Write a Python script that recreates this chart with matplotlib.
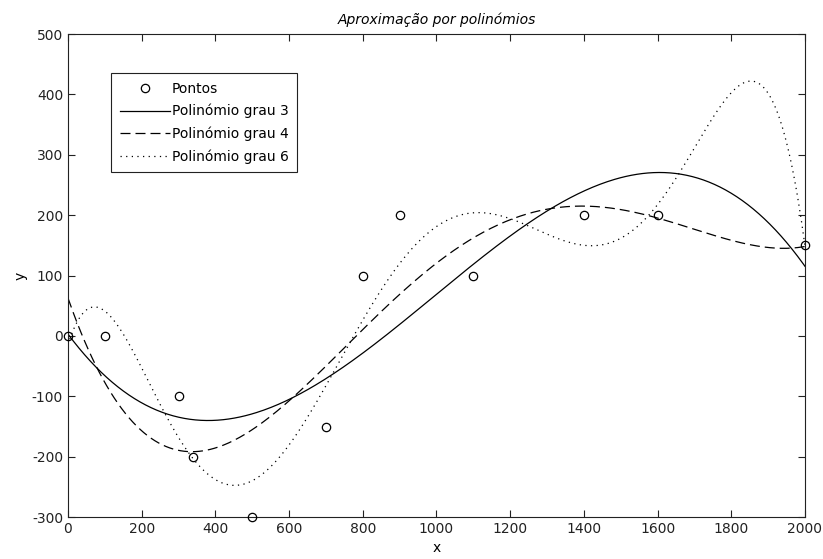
import numpy as np
import matplotlib.pyplot as plt

plt.rcParams['font.family'] = ['DejaVu Sans']
plt.rcParams['axes.unicode_minus'] = False

# pontos
x_pts = [0, 100, 300, 340, 500, 700, 800, 900, 1100, 1400, 1600, 2000]
y_pts = [0, 0, -100, -200, -300, -150, 100, 200, 100, 200, 200, 150]
degrees = [3, 4, 6]
labels = ['Polinómio grau 3', 'Polinómio grau 4', 'Polinómio grau 6']

fig = plt.figure(figsize=(8.23, 5.59), dpi=100)
ax = fig.add_axes([0.0826, 0.075, 0.8955, 0.864])

ax.plot(x_pts, y_pts, 'o', mfc='none', mec='black', ms=6, mew=0.9,
        label='Pontos', clip_on=False, zorder=5)

xs = np.linspace(0, 2000, 400)
line_kw = [dict(ls='-', lw=0.9),
           dict(ls='--', lw=0.9, dashes=(8, 4)),
           dict(ls=':', lw=0.9, dashes=(1, 3.5))]
for deg, kw, lab in zip(degrees, line_kw, labels):
    p = np.polyfit(x_pts, y_pts, deg)
    ax.plot(xs, np.polyval(p, xs), color='black', label=lab, **kw)

ax.set_xlim(0, 2000)
ax.set_ylim(-300, 500)
ax.set_xticks(range(0, 2001, 200))
ax.set_yticks(range(-300, 501, 100))
ax.tick_params(direction='in', top=True, right=True, labelsize=10,
               length=5, width=0.8, colors='#222222')
for s in ax.spines.values():
    s.set_linewidth(0.8)
    s.set_color('#222222')

ax.set_title('Aproximação por polinómios', fontsize=10, style='italic', pad=7)
ax.set_xlabel('x', fontsize=10, labelpad=4)
ax.set_ylabel('y', fontsize=10, labelpad=3)

leg = ax.legend(loc='upper left', bbox_to_anchor=(0.059, 0.919), borderaxespad=0,
                fontsize=10, fancybox=False, edgecolor='#222222', framealpha=1,
                handlelength=3.6, handletextpad=0.15, borderpad=0.6,
                labelspacing=0.6)
leg.get_frame().set_linewidth(0.8)

fig.savefig('out.png', dpi=100)
